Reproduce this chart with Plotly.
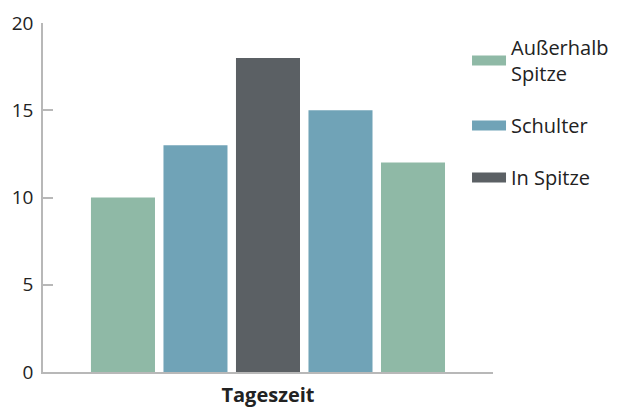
import plotly.graph_objects as go

categories = [0, 1, 2, 3, 4]
values = [10, 13, 18, 15, 12]
groups = ["Außerhalb Spitze", "Schulter", "In Spitze", "Schulter", "Außerhalb Spitze"]
series_names = ["Außerhalb Spitze", "Schulter", "In Spitze"]
legend_labels = ["Außerhalb<br>Spitze", "Schulter", "In Spitze"]
colors = {"Außerhalb Spitze": "#8fb9a6", "Schulter": "#70a3b7", "In Spitze": "#5b6064"}
y_ticks = [0, 5, 10, 15, 20]

FONT = "Open Sans"
fig = go.Figure()

for name, label in zip(series_names, legend_labels):
    xs = [c for c, g in zip(categories, groups) if g == name]
    ys = [v for v, g in zip(values, groups) if g == name]
    fig.add_trace(go.Bar(x=xs, y=ys, name=label, marker=dict(color=colors[name], line=dict(width=0)),
                         width=0.883, showlegend=False, legendgroup=name))
    fig.add_trace(go.Scatter(x=[None], y=[None], mode="lines", name=label, legendgroup=name,
                             line=dict(color=colors[name], width=12)))

fig.update_layout(
    width=618, height=400,
    margin=dict(l=35, r=10, t=15, b=36),
    paper_bgcolor="white", plot_bgcolor="white",
    barmode="overlay",
    font=dict(family=FONT, size=18, color="#222222"),
    showlegend=True,
    legend=dict(x=0.740, y=0.986, xanchor="left", yanchor="top", xref="paper", yref="paper",
                tracegroupgap=23, font=dict(size=20, color="#222222"), itemwidth=34,
                bgcolor="rgba(0,0,0,0)"),
    xaxis=dict(domain=[0, 0.7853], range=[-1.103, 5.103], showticklabels=False, ticks="", showgrid=False,
               zeroline=False, showline=True, linecolor="#b8b8b8", linewidth=1.5, automargin=False,
               title=dict(text="<b>Tageszeit</b>", font=dict(size=20, color="#222222"), standoff=17)),
    yaxis=dict(range=[0, 20], tickvals=y_ticks, ticks="inside", ticklen=10, tickcolor="#b8b8b8", tickwidth=1.5,
               showgrid=False, zeroline=False, showline=True, linecolor="#b8b8b8", linewidth=1.5,
               automargin=False, ticklabelstandoff=4,
               tickfont=dict(size=19, color="#222222"), fixedrange=True),
)

fig.write_html("out.html")
